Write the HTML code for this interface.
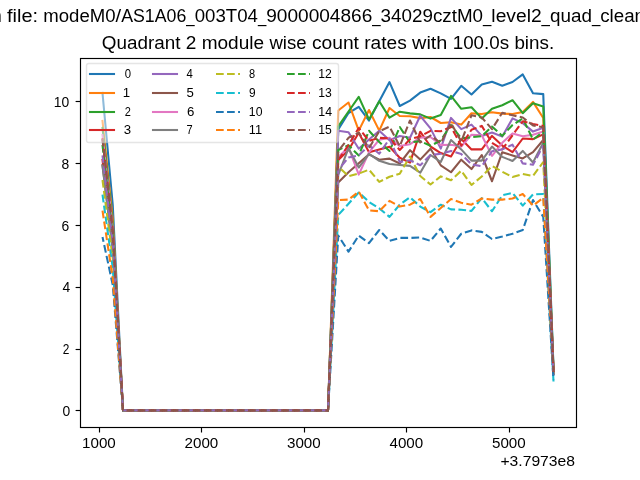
<!DOCTYPE html>
<html lang="en"><head><meta charset="utf-8"><title>Quadrant 2 module wise count rates</title>
<style>html,body{margin:0;padding:0;background:#fff;}body{width:640px;height:480px;overflow:hidden;}svg{display:block;will-change:transform;}text{font-family:"Liberation Sans", sans-serif;fill:#000;}</style>
</head><body>
<svg width="640" height="480" viewBox="0 0 640 480">
<rect x="0" y="0" width="640" height="480" fill="#ffffff"/>
<defs><clipPath id="ax"><rect x="80" y="57.6" width="496" height="369.6"/></clipPath></defs>
<g clip-path="url(#ax)" fill="none" stroke-width="2.0833">
<polyline points="102.50,93.00 112.75,205.00 123.00,410.40 133.25,410.40 143.50,410.40 153.75,410.40 164.00,410.40 174.25,410.40 184.50,410.40 194.75,410.40 205.00,410.40 215.25,410.40 225.50,410.40 235.75,410.40 246.00,410.40 256.25,410.40 266.50,410.40 276.75,410.40 287.00,410.40 297.25,410.40 307.50,410.40 317.75,410.40 328.00,410.40 338.25,129.40 348.50,113.00 358.75,106.90 369.00,120.60 379.25,101.25 389.50,82.10 399.75,106.00 410.00,100.60 420.25,92.60 430.50,88.80 440.75,93.40 451.00,98.90 461.25,85.80 471.50,94.50 481.75,84.50 492.00,81.70 502.25,85.75 512.50,82.00 522.75,74.40 533.00,93.25 543.25,94.10 553.50,367.70" stroke="#1f77b4" stroke-linejoin="round" stroke-linecap="square"/>
<polyline points="102.50,121.00 112.75,219.40 123.00,410.40 133.25,410.40 143.50,410.40 153.75,410.40 164.00,410.40 174.25,410.40 184.50,410.40 194.75,410.40 205.00,410.40 215.25,410.40 225.50,410.40 235.75,410.40 246.00,410.40 256.25,410.40 266.50,410.40 276.75,410.40 287.00,410.40 297.25,410.40 307.50,410.40 317.75,410.40 328.00,410.40 338.25,110.50 348.50,102.50 358.75,130.60 369.00,110.00 379.25,130.60 389.50,108.00 399.75,116.00 410.00,116.30 420.25,118.10 430.50,117.00 440.75,123.00 451.00,122.20 461.25,124.60 471.50,113.20 481.75,114.10 492.00,112.20 502.25,113.60 512.50,114.00 522.75,112.00 533.00,101.90 543.25,118.00 553.50,370.93" stroke="#ff7f0e" stroke-linejoin="round" stroke-linecap="square"/>
<polyline points="102.50,128.00 112.75,224.02 123.00,410.40 133.25,410.40 143.50,410.40 153.75,410.40 164.00,410.40 174.25,410.40 184.50,410.40 194.75,410.40 205.00,410.40 215.25,410.40 225.50,410.40 235.75,410.40 246.00,410.40 256.25,410.40 266.50,410.40 276.75,410.40 287.00,410.40 297.25,410.40 307.50,410.40 317.75,410.40 328.00,410.40 338.25,126.25 348.50,111.50 358.75,96.90 369.00,119.40 379.25,101.25 389.50,117.60 399.75,111.70 410.00,113.40 420.25,114.40 430.50,118.60 440.75,115.00 451.00,95.90 461.25,108.80 471.50,107.20 481.75,118.40 492.00,108.70 502.25,105.20 512.50,100.20 522.75,113.20 533.00,103.30 543.25,106.50 553.50,369.37" stroke="#2ca02c" stroke-linejoin="round" stroke-linecap="square"/>
<polyline points="102.50,160.00 112.75,245.14 123.00,410.40 133.25,410.40 143.50,410.40 153.75,410.40 164.00,410.40 174.25,410.40 184.50,410.40 194.75,410.40 205.00,410.40 215.25,410.40 225.50,410.40 235.75,410.40 246.00,410.40 256.25,410.40 266.50,410.40 276.75,410.40 287.00,410.40 297.25,410.40 307.50,410.40 317.75,410.40 328.00,410.40 338.25,160.00 348.50,150.00 358.75,132.70 369.00,152.30 379.25,149.60 389.50,146.70 399.75,157.80 410.00,162.60 420.25,131.70 430.50,146.50 440.75,153.10 451.00,156.50 461.25,139.10 471.50,149.40 481.75,149.40 492.00,135.90 502.25,145.60 512.50,152.20 522.75,138.50 533.00,139.10 543.25,134.40 553.50,373.14" stroke="#d62728" stroke-linejoin="round" stroke-linecap="square"/>
<polyline points="102.50,140.00 112.75,231.94 123.00,410.40 133.25,410.40 143.50,410.40 153.75,410.40 164.00,410.40 174.25,410.40 184.50,410.40 194.75,410.40 205.00,410.40 215.25,410.40 225.50,410.40 235.75,410.40 246.00,410.40 256.25,410.40 266.50,410.40 276.75,410.40 287.00,410.40 297.25,410.40 307.50,410.40 317.75,410.40 328.00,410.40 338.25,130.80 348.50,132.30 358.75,148.70 369.00,139.50 379.25,130.80 389.50,140.20 399.75,136.00 410.00,137.80 420.25,115.80 430.50,128.40 440.75,148.60 451.00,117.90 461.25,129.10 471.50,124.60 481.75,135.90 492.00,132.50 502.25,136.60 512.50,118.40 522.75,123.10 533.00,131.60 543.25,127.80 553.50,372.25" stroke="#9467bd" stroke-linejoin="round" stroke-linecap="square"/>
<polyline points="102.50,165.00 112.75,248.44 123.00,410.40 133.25,410.40 143.50,410.40 153.75,410.40 164.00,410.40 174.25,410.40 184.50,410.40 194.75,410.40 205.00,410.40 215.25,410.40 225.50,410.40 235.75,410.40 246.00,410.40 256.25,410.40 266.50,410.40 276.75,410.40 287.00,410.40 297.25,410.40 307.50,410.40 317.75,410.40 328.00,410.40 338.25,182.50 348.50,172.20 358.75,163.20 369.00,154.30 379.25,159.70 389.50,158.60 399.75,163.50 410.00,150.20 420.25,159.60 430.50,148.80 440.75,165.30 451.00,172.25 461.25,159.70 471.50,169.10 481.75,155.00 492.00,181.25 502.25,152.20 512.50,155.40 522.75,158.40 533.00,152.20 543.25,140.00 553.50,373.90" stroke="#8c564b" stroke-linejoin="round" stroke-linecap="square"/>
<polyline points="102.50,135.00 112.75,228.64 123.00,410.40 133.25,410.40 143.50,410.40 153.75,410.40 164.00,410.40 174.25,410.40 184.50,410.40 194.75,410.40 205.00,410.40 215.25,410.40 225.50,410.40 235.75,410.40 246.00,410.40 256.25,410.40 266.50,410.40 276.75,410.40 287.00,410.40 297.25,410.40 307.50,410.40 317.75,410.40 328.00,410.40 338.25,157.00 348.50,147.40 358.75,174.60 369.00,152.40 379.25,139.70 389.50,137.70 399.75,146.10 410.00,144.20 420.25,137.70 430.50,137.00 440.75,145.00 451.00,144.70 461.25,146.60 471.50,134.75 481.75,135.30 492.00,155.90 502.25,142.80 512.50,133.40 522.75,136.25 533.00,134.75 543.25,131.60 553.50,372.76" stroke="#e377c2" stroke-linejoin="round" stroke-linecap="square"/>
<polyline points="102.50,166.00 112.75,249.10 123.00,410.40 133.25,410.40 143.50,410.40 153.75,410.40 164.00,410.40 174.25,410.40 184.50,410.40 194.75,410.40 205.00,410.40 215.25,410.40 225.50,410.40 235.75,410.40 246.00,410.40 256.25,410.40 266.50,410.40 276.75,410.40 287.00,410.40 297.25,410.40 307.50,410.40 317.75,410.40 328.00,410.40 338.25,175.00 348.50,148.20 358.75,167.50 369.00,153.90 379.25,160.85 389.50,164.00 399.75,165.00 410.00,165.90 420.25,172.70 430.50,155.00 440.75,162.00 451.00,140.00 461.25,149.40 471.50,160.60 481.75,160.60 492.00,146.60 502.25,156.90 512.50,161.00 522.75,150.90 533.00,162.50 543.25,142.80 553.50,374.27" stroke="#7f7f7f" stroke-linejoin="round" stroke-linecap="square"/>
<polyline points="102.50,180.00 112.75,258.34 123.00,410.40 133.25,410.40 143.50,410.40 153.75,410.40 164.00,410.40 174.25,410.40 184.50,410.40 194.75,410.40 205.00,410.40 215.25,410.40 225.50,410.40 235.75,410.40 246.00,410.40 256.25,410.40 266.50,410.40 276.75,410.40 287.00,410.40 297.25,410.40 307.50,410.40 317.75,410.40 328.00,410.40 338.25,166.50 348.50,176.30 358.75,173.60 369.00,169.70 379.25,181.90 389.50,176.80 399.75,173.70 410.00,156.50 420.25,176.00 430.50,184.50 440.75,176.40 451.00,180.30 461.25,170.70 471.50,185.00 481.75,176.50 492.00,166.00 502.25,171.70 512.50,177.00 522.75,174.00 533.00,176.00 543.25,162.00 553.50,376.87" stroke="#bcbd22" stroke-linejoin="round" stroke-linecap="butt" stroke-dasharray="7.708 3.333" stroke-dashoffset="0.00"/>
<polyline points="102.50,194.70 112.75,268.04 123.00,410.40 133.25,410.40 143.50,410.40 153.75,410.40 164.00,410.40 174.25,410.40 184.50,410.40 194.75,410.40 205.00,410.40 215.25,410.40 225.50,410.40 235.75,410.40 246.00,410.40 256.25,410.40 266.50,410.40 276.75,410.40 287.00,410.40 297.25,410.40 307.50,410.40 317.75,410.40 328.00,410.40 338.25,215.00 348.50,203.75 358.75,192.50 369.00,201.90 379.25,208.40 389.50,216.90 399.75,204.70 410.00,197.20 420.25,206.60 430.50,212.20 440.75,204.70 451.00,209.40 461.25,209.75 471.50,210.90 481.75,198.10 492.00,211.25 502.25,195.30 512.50,192.90 522.75,205.60 533.00,194.40 543.25,194.00 553.50,381.50" stroke="#17becf" stroke-linejoin="round" stroke-linecap="butt" stroke-dasharray="7.708 3.333" stroke-dashoffset="0.00"/>
<polyline points="102.50,237.00 112.75,285.00 123.00,410.40 133.25,410.40 143.50,410.40 153.75,410.40 164.00,410.40 174.25,410.40 184.50,410.40 194.75,410.40 205.00,410.40 215.25,410.40 225.50,410.40 235.75,410.40 246.00,410.40 256.25,410.40 266.50,410.40 276.75,410.40 287.00,410.40 297.25,410.40 307.50,410.40 317.75,410.40 328.00,410.40 338.25,235.60 348.50,251.60 358.75,235.60 369.00,243.10 379.25,230.00 389.50,240.90 399.75,237.90 410.00,237.90 420.25,237.50 430.50,240.90 440.75,228.50 451.00,246.90 461.25,233.75 471.50,230.40 481.75,231.90 492.00,239.00 502.25,236.60 512.50,233.75 522.75,230.00 533.00,200.00 543.25,216.90 553.50,379.50" stroke="#1f77b4" stroke-linejoin="round" stroke-linecap="butt" stroke-dasharray="7.708 3.333" stroke-dashoffset="2.80"/>
<polyline points="102.50,210.60 112.75,278.53 123.00,410.40 133.25,410.40 143.50,410.40 153.75,410.40 164.00,410.40 174.25,410.40 184.50,410.40 194.75,410.40 205.00,410.40 215.25,410.40 225.50,410.40 235.75,410.40 246.00,410.40 256.25,410.40 266.50,410.40 276.75,410.40 287.00,410.40 297.25,410.40 307.50,410.40 317.75,410.40 328.00,410.40 338.25,200.00 348.50,199.60 358.75,191.60 369.00,210.30 379.25,211.25 389.50,200.90 399.75,206.60 410.00,204.70 420.25,199.00 430.50,216.90 440.75,208.00 451.00,199.00 461.25,202.80 471.50,204.70 481.75,198.50 492.00,199.60 502.25,199.60 512.50,198.50 522.75,194.00 533.00,205.60 543.25,197.75 553.50,371.00" stroke="#ff7f0e" stroke-linejoin="round" stroke-linecap="butt" stroke-dasharray="7.708 3.333" stroke-dashoffset="0.00"/>
<polyline points="102.50,145.00 112.75,235.24 123.00,410.40 133.25,410.40 143.50,410.40 153.75,410.40 164.00,410.40 174.25,410.40 184.50,410.40 194.75,410.40 205.00,410.40 215.25,410.40 225.50,410.40 235.75,410.40 246.00,410.40 256.25,410.40 266.50,410.40 276.75,410.40 287.00,410.40 297.25,410.40 307.50,410.40 317.75,410.40 328.00,410.40 338.25,150.00 348.50,145.30 358.75,155.40 369.00,130.80 379.25,142.00 389.50,151.00 399.75,127.00 410.00,142.50 420.25,141.10 430.50,145.80 440.75,140.50 451.00,125.00 461.25,138.50 471.50,137.20 481.75,136.25 492.00,126.50 502.25,135.90 512.50,125.00 522.75,118.40 533.00,139.60 543.25,131.60 553.50,372.76" stroke="#2ca02c" stroke-linejoin="round" stroke-linecap="butt" stroke-dasharray="7.708 3.333" stroke-dashoffset="0.00"/>
<polyline points="102.50,138.00 112.75,230.62 123.00,410.40 133.25,410.40 143.50,410.40 153.75,410.40 164.00,410.40 174.25,410.40 184.50,410.40 194.75,410.40 205.00,410.40 215.25,410.40 225.50,410.40 235.75,410.40 246.00,410.40 256.25,410.40 266.50,410.40 276.75,410.40 287.00,410.40 297.25,410.40 307.50,410.40 317.75,410.40 328.00,410.40 338.25,160.00 348.50,145.00 358.75,128.00 369.00,141.00 379.25,137.80 389.50,138.30 399.75,150.00 410.00,139.20 420.25,136.40 430.50,130.80 440.75,131.20 451.00,126.90 461.25,145.60 471.50,129.70 481.75,125.90 492.00,142.80 502.25,149.40 512.50,135.30 522.75,121.25 533.00,124.00 543.25,125.90 553.50,371.99" stroke="#d62728" stroke-linejoin="round" stroke-linecap="butt" stroke-dasharray="7.708 3.333" stroke-dashoffset="0.00"/>
<polyline points="102.50,155.33 112.75,242.05 123.00,410.40 133.25,410.40 143.50,410.40 153.75,410.40 164.00,410.40 174.25,410.40 184.50,410.40 194.75,410.40 205.00,410.40 215.25,410.40 225.50,410.40 235.75,410.40 246.00,410.40 256.25,410.40 266.50,410.40 276.75,410.40 287.00,410.40 297.25,410.40 307.50,410.40 317.75,410.40 328.00,410.40 338.25,170.00 348.50,157.50 358.75,155.40 369.00,145.30 379.25,153.75 389.50,138.90 399.75,162.00 410.00,160.20 420.25,165.30 430.50,155.00 440.75,153.80 451.00,150.90 461.25,154.00 471.50,164.40 481.75,166.25 492.00,151.25 502.25,149.40 512.50,144.70 522.75,163.40 533.00,164.75 543.25,145.60 553.50,374.65" stroke="#9467bd" stroke-linejoin="round" stroke-linecap="butt" stroke-dasharray="7.708 3.333" stroke-dashoffset="0.00"/>
<polyline points="102.50,138.83 112.75,231.16 123.00,410.40 133.25,410.40 143.50,410.40 153.75,410.40 164.00,410.40 174.25,410.40 184.50,410.40 194.75,410.40 205.00,410.40 215.25,410.40 225.50,410.40 235.75,410.40 246.00,410.40 256.25,410.40 266.50,410.40 276.75,410.40 287.00,410.40 297.25,410.40 307.50,410.40 317.75,410.40 328.00,410.40 338.25,151.00 348.50,137.80 358.75,132.70 369.00,148.10 379.25,131.25 389.50,126.60 399.75,146.25 410.00,120.50 420.25,142.50 430.50,135.50 440.75,143.10 451.00,123.10 461.25,141.50 471.50,115.25 481.75,117.50 492.00,129.10 502.25,112.80 512.50,115.25 522.75,117.50 533.00,125.40 543.25,127.25 553.50,372.17" stroke="#8c564b" stroke-linejoin="round" stroke-linecap="butt" stroke-dasharray="7.708 3.333" stroke-dashoffset="0.00"/>
</g>
<g stroke="#000" stroke-width="1.15" fill="none" stroke-linecap="butt">
<rect x="80.5" y="58.5" width="496" height="369"/>
<line x1="99.5" y1="427.5" x2="99.5" y2="432.5"/>
<line x1="201.5" y1="427.5" x2="201.5" y2="432.5"/>
<line x1="304.5" y1="427.5" x2="304.5" y2="432.5"/>
<line x1="406.5" y1="427.5" x2="406.5" y2="432.5"/>
<line x1="509.5" y1="427.5" x2="509.5" y2="432.5"/>
<line x1="75.6" y1="410.5" x2="80.5" y2="410.5"/>
<line x1="75.6" y1="349.5" x2="80.5" y2="349.5"/>
<line x1="75.6" y1="287.5" x2="80.5" y2="287.5"/>
<line x1="75.6" y1="225.5" x2="80.5" y2="225.5"/>
<line x1="75.6" y1="163.5" x2="80.5" y2="163.5"/>
<line x1="75.6" y1="101.5" x2="80.5" y2="101.5"/>
</g>
<text x="98.90" y="448.00" font-size="14.79" text-anchor="middle" textLength="33.76" lengthAdjust="spacingAndGlyphs">1000</text>
<text x="201.38" y="448.00" font-size="14.79" text-anchor="middle" textLength="33.76" lengthAdjust="spacingAndGlyphs">2000</text>
<text x="303.86" y="448.00" font-size="14.79" text-anchor="middle" textLength="33.76" lengthAdjust="spacingAndGlyphs">3000</text>
<text x="406.34" y="448.00" font-size="14.79" text-anchor="middle" textLength="33.76" lengthAdjust="spacingAndGlyphs">4000</text>
<text x="508.82" y="448.00" font-size="14.79" text-anchor="middle" textLength="33.76" lengthAdjust="spacingAndGlyphs">5000</text>
<text x="70.28" y="415.80" font-size="14.79" text-anchor="end" textLength="7.73" lengthAdjust="spacingAndGlyphs">0</text>
<text x="69.28" y="353.80" font-size="14.79" text-anchor="end" textLength="6.63" lengthAdjust="spacingAndGlyphs">2</text>
<text x="70.28" y="291.80" font-size="14.79" text-anchor="end" textLength="7.73" lengthAdjust="spacingAndGlyphs">4</text>
<text x="69.28" y="230.80" font-size="14.79" text-anchor="end" textLength="7.73" lengthAdjust="spacingAndGlyphs">6</text>
<text x="69.28" y="168.80" font-size="14.79" text-anchor="end" textLength="7.73" lengthAdjust="spacingAndGlyphs">8</text>
<text x="69.28" y="106.80" font-size="14.79" text-anchor="end" textLength="15.46" lengthAdjust="spacingAndGlyphs">10</text>
<text x="575.00" y="466.00" font-size="14.72" text-anchor="end" textLength="74.55" lengthAdjust="spacingAndGlyphs">+3.7973e8</text>
<text x="101.82" y="49.00" font-size="17.50" text-anchor="start" textLength="78.64" lengthAdjust="spacingAndGlyphs">Quadrant</text>
<text x="185.76" y="49.00" font-size="17.50" text-anchor="start" textLength="10.60" lengthAdjust="spacingAndGlyphs">2</text>
<text x="201.66" y="49.00" font-size="17.50" text-anchor="start" textLength="62.46" lengthAdjust="spacingAndGlyphs">module</text>
<text x="269.42" y="49.00" font-size="17.50" text-anchor="start" textLength="37.20" lengthAdjust="spacingAndGlyphs">wise</text>
<text x="311.91" y="49.00" font-size="17.50" text-anchor="start" textLength="47.02" lengthAdjust="spacingAndGlyphs">count</text>
<text x="364.23" y="49.00" font-size="17.50" text-anchor="start" textLength="42.54" lengthAdjust="spacingAndGlyphs">rates</text>
<text x="412.07" y="49.00" font-size="17.50" text-anchor="start" textLength="35.36" lengthAdjust="spacingAndGlyphs">with</text>
<text x="452.73" y="49.00" font-size="17.50" text-anchor="start" textLength="56.40" lengthAdjust="spacingAndGlyphs">100.0s</text>
<text x="514.42" y="49.00" font-size="17.50" text-anchor="start" textLength="39.75" lengthAdjust="spacingAndGlyphs">bins.</text>
<text x="-8.85" y="22.00" font-size="17.50" text-anchor="start" textLength="10.56" lengthAdjust="spacingAndGlyphs">n</text>
<text x="7.01" y="22.00" font-size="17.50" text-anchor="start" textLength="31.00" lengthAdjust="spacingAndGlyphs">file:</text>
<text x="43.31" y="22.00" font-size="17.50" text-anchor="start" textLength="72.25" lengthAdjust="spacingAndGlyphs">modeM0</text>
<text x="115.56" y="22.00" font-size="17.50" text-anchor="start" textLength="5.62" lengthAdjust="spacingAndGlyphs">/</text>
<text x="121.17" y="22.00" font-size="17.50" text-anchor="start" textLength="65.19" lengthAdjust="spacingAndGlyphs">AS1A06</text>
<text x="186.37" y="22.00" font-size="17.50" text-anchor="start" textLength="8.33" lengthAdjust="spacingAndGlyphs">_</text>
<text x="194.70" y="22.00" font-size="17.50" text-anchor="start" textLength="63.20" lengthAdjust="spacingAndGlyphs">003T04</text>
<text x="257.90" y="22.00" font-size="17.50" text-anchor="start" textLength="8.33" lengthAdjust="spacingAndGlyphs">_</text>
<text x="266.23" y="22.00" font-size="17.50" text-anchor="start" textLength="106.04" lengthAdjust="spacingAndGlyphs">9000004866</text>
<text x="372.27" y="22.00" font-size="17.50" text-anchor="start" textLength="8.33" lengthAdjust="spacingAndGlyphs">_</text>
<text x="380.60" y="22.00" font-size="17.50" text-anchor="start" textLength="102.45" lengthAdjust="spacingAndGlyphs">34029cztM0</text>
<text x="483.06" y="22.00" font-size="17.50" text-anchor="start" textLength="8.33" lengthAdjust="spacingAndGlyphs">_</text>
<text x="491.39" y="22.00" font-size="17.50" text-anchor="start" textLength="50.24" lengthAdjust="spacingAndGlyphs">level2</text>
<text x="541.62" y="22.00" font-size="17.50" text-anchor="start" textLength="8.33" lengthAdjust="spacingAndGlyphs">_</text>
<text x="549.96" y="22.00" font-size="17.50" text-anchor="start" textLength="41.94" lengthAdjust="spacingAndGlyphs">quad</text>
<text x="591.89" y="22.00" font-size="17.50" text-anchor="start" textLength="8.33" lengthAdjust="spacingAndGlyphs">_</text>
<text x="600.23" y="22.00" font-size="17.50" text-anchor="start" textLength="44.82" lengthAdjust="spacingAndGlyphs">clean</text>
<rect x="86.50" y="63.50" width="252.00" height="79.00" rx="2.3" ry="2.3" fill="#ffffff" fill-opacity="0.5" stroke="#cccccc" stroke-opacity="0.5" stroke-width="1.39"/>
<g fill="none" stroke-width="2.0833">
<line x1="90.00" y1="74.00" x2="114.00" y2="74.00" stroke="#1f77b4" stroke-linecap="square"/>
<line x1="90.00" y1="93.00" x2="114.00" y2="93.00" stroke="#ff7f0e" stroke-linecap="square"/>
<line x1="90.00" y1="112.00" x2="114.00" y2="112.00" stroke="#2ca02c" stroke-linecap="square"/>
<line x1="90.00" y1="130.00" x2="114.00" y2="130.00" stroke="#d62728" stroke-linecap="square"/>
<line x1="153.00" y1="74.00" x2="177.00" y2="74.00" stroke="#9467bd" stroke-linecap="square"/>
<line x1="153.00" y1="93.00" x2="177.00" y2="93.00" stroke="#8c564b" stroke-linecap="square"/>
<line x1="153.00" y1="112.00" x2="177.00" y2="112.00" stroke="#e377c2" stroke-linecap="square"/>
<line x1="153.00" y1="130.00" x2="177.00" y2="130.00" stroke="#7f7f7f" stroke-linecap="square"/>
<line x1="216.00" y1="74.00" x2="240.00" y2="74.00" stroke="#bcbd22" stroke-dasharray="7.708 3.333"/>
<line x1="216.00" y1="93.00" x2="240.00" y2="93.00" stroke="#17becf" stroke-dasharray="7.708 3.333"/>
<line x1="216.00" y1="112.00" x2="240.00" y2="112.00" stroke="#1f77b4" stroke-dasharray="7.708 3.333"/>
<line x1="216.00" y1="130.00" x2="240.00" y2="130.00" stroke="#ff7f0e" stroke-dasharray="7.708 3.333"/>
<line x1="287.00" y1="74.00" x2="310.00" y2="74.00" stroke="#2ca02c" stroke-dasharray="7.708 3.333"/>
<line x1="287.00" y1="93.00" x2="310.00" y2="93.00" stroke="#d62728" stroke-dasharray="7.708 3.333"/>
<line x1="287.00" y1="112.00" x2="310.00" y2="112.00" stroke="#9467bd" stroke-dasharray="7.708 3.333"/>
<line x1="287.00" y1="130.00" x2="310.00" y2="130.00" stroke="#8c564b" stroke-dasharray="7.708 3.333"/>
</g>
<text x="124.81" y="78.00" font-size="12.32" text-anchor="start" textLength="6.31" lengthAdjust="spacingAndGlyphs">0</text>
<text x="122.81" y="97.00" font-size="12.32" text-anchor="start" textLength="7.36" lengthAdjust="spacingAndGlyphs">1</text>
<text x="124.81" y="116.00" font-size="12.32" text-anchor="start" textLength="6.13" lengthAdjust="spacingAndGlyphs">2</text>
<text x="123.81" y="134.00" font-size="12.32" text-anchor="start" textLength="7.36" lengthAdjust="spacingAndGlyphs">3</text>
<text x="186.44" y="78.00" font-size="12.32" text-anchor="start" textLength="6.31" lengthAdjust="spacingAndGlyphs">4</text>
<text x="186.44" y="97.00" font-size="12.32" text-anchor="start" textLength="7.36" lengthAdjust="spacingAndGlyphs">5</text>
<text x="187.04" y="116.00" font-size="12.32" text-anchor="start" textLength="7.36" lengthAdjust="spacingAndGlyphs">6</text>
<text x="186.44" y="134.00" font-size="12.32" text-anchor="start" textLength="6.13" lengthAdjust="spacingAndGlyphs">7</text>
<text x="249.07" y="78.00" font-size="12.32" text-anchor="start" textLength="6.13" lengthAdjust="spacingAndGlyphs">8</text>
<text x="249.07" y="97.00" font-size="12.32" text-anchor="start" textLength="6.62" lengthAdjust="spacingAndGlyphs">9</text>
<text x="248.87" y="116.00" font-size="12.32" text-anchor="start" textLength="13.59" lengthAdjust="spacingAndGlyphs">10</text>
<text x="248.87" y="134.00" font-size="12.32" text-anchor="start" textLength="13.25" lengthAdjust="spacingAndGlyphs">11</text>
<text x="318.31" y="78.00" font-size="12.32" text-anchor="start" textLength="13.54" lengthAdjust="spacingAndGlyphs">12</text>
<text x="318.31" y="97.00" font-size="12.32" text-anchor="start" textLength="13.54" lengthAdjust="spacingAndGlyphs">13</text>
<text x="318.31" y="116.00" font-size="12.32" text-anchor="start" textLength="13.69" lengthAdjust="spacingAndGlyphs">14</text>
<text x="318.31" y="134.00" font-size="12.32" text-anchor="start" textLength="13.54" lengthAdjust="spacingAndGlyphs">15</text>
</svg>
</body></html>
